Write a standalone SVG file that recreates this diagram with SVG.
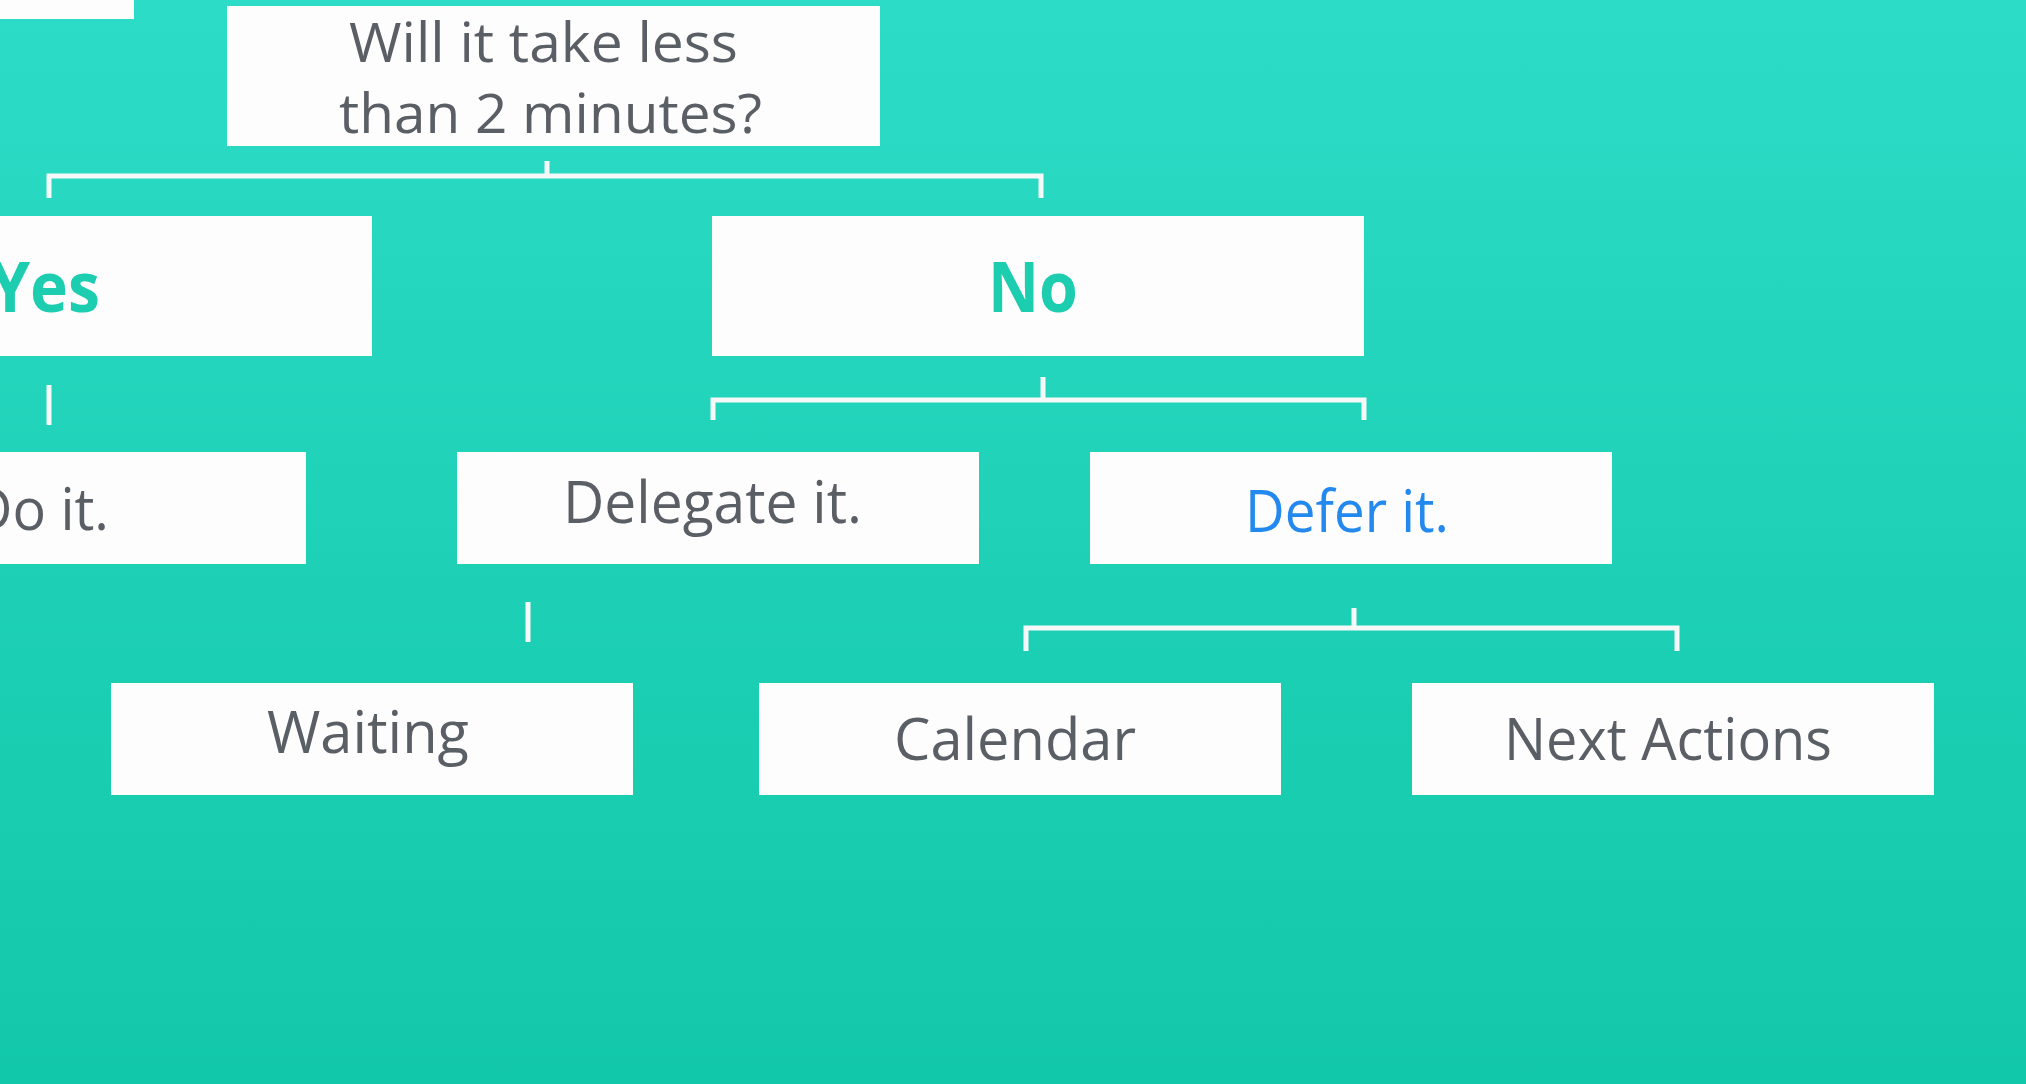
<svg xmlns="http://www.w3.org/2000/svg" width="2026" height="1084" viewBox="0 0 2026 1084">
  <defs>
    <linearGradient id="bg" x1="0" y1="0" x2="0" y2="1">
      <stop offset="0" stop-color="#2ddcc7"/>
      <stop offset="0.55" stop-color="#1dd0b5"/>
      <stop offset="1" stop-color="#12c8aa"/>
    </linearGradient>
    <style>
      .box { fill: #fdfdfd; }
      .lbl { font-family: "Open Sans", "Noto Sans", "Liberation Sans", sans-serif; font-size: 58px; fill: #5a5e65; }
      .q { font-size: 54px; }
      .big { font-weight: 700; font-size: 70px; fill: #1ccdb0; }
      .blue { fill: #2389ee; }
      .wire { fill: none; stroke: #f7f9f9; stroke-width: 5; }
    </style>
  </defs>

  <rect width="2026" height="1084" fill="url(#bg)"/>

  <!-- connectors -->
  <g id="connectors" class="wire">
    <path d="M49 198 V176 H1041 V198 M547 161 V176"/>
    <path d="M49 385 V425"/>
    <path d="M713 420 V400 H1364 V420 M1043 377 V400"/>
    <path d="M528 602 V642"/>
    <path d="M1026 651 V628 H1677 V651 M1354 608 V628"/>
  </g>

  <!-- partial box at top-left edge -->
  <g id="edge-box">
    <rect class="box" x="-20" y="-10" width="154" height="29"/>
  </g>

  <g id="question">
    <rect class="box" x="227" y="6" width="653" height="140"/>
    <text class="lbl q" x="349" y="62" textLength="389" lengthAdjust="spacingAndGlyphs">Will it take less</text>
    <text class="lbl q" x="339" y="133" textLength="423" lengthAdjust="spacingAndGlyphs">than 2 minutes?</text>
  </g>

  <g id="yes">
    <rect class="box" x="-280" y="216" width="652" height="140"/>
    <text class="lbl big" x="-10" y="312" textLength="110" lengthAdjust="spacingAndGlyphs">Yes</text>
  </g>

  <g id="no">
    <rect class="box" x="712" y="216" width="652" height="140"/>
    <text class="lbl big" x="988" y="312" textLength="90" lengthAdjust="spacingAndGlyphs">No</text>
  </g>

  <g id="do-it">
    <rect class="box" x="-216" y="452" width="522" height="112"/>
    <text class="lbl" x="-28" y="530" textLength="137" lengthAdjust="spacingAndGlyphs">Do it.</text>
  </g>

  <g id="delegate-it">
    <rect class="box" x="457" y="452" width="522" height="112"/>
    <text class="lbl" x="563" y="523" textLength="299" lengthAdjust="spacingAndGlyphs">Delegate it.</text>
  </g>

  <g id="defer-it">
    <rect class="box" x="1090" y="452" width="522" height="112"/>
    <text class="lbl blue" x="1245" y="532" textLength="204" lengthAdjust="spacingAndGlyphs">Defer it.</text>
  </g>

  <g id="waiting">
    <rect class="box" x="111" y="683" width="522" height="112"/>
    <text class="lbl" x="267" y="753" textLength="202" lengthAdjust="spacingAndGlyphs">Waiting</text>
  </g>

  <g id="calendar">
    <rect class="box" x="759" y="683" width="522" height="112"/>
    <text class="lbl" x="894" y="760" textLength="242" lengthAdjust="spacingAndGlyphs">Calendar</text>
  </g>

  <g id="next-actions">
    <rect class="box" x="1412" y="683" width="522" height="112"/>
    <text class="lbl" x="1504" y="760" textLength="328" lengthAdjust="spacingAndGlyphs">Next Actions</text>
  </g>
</svg>
